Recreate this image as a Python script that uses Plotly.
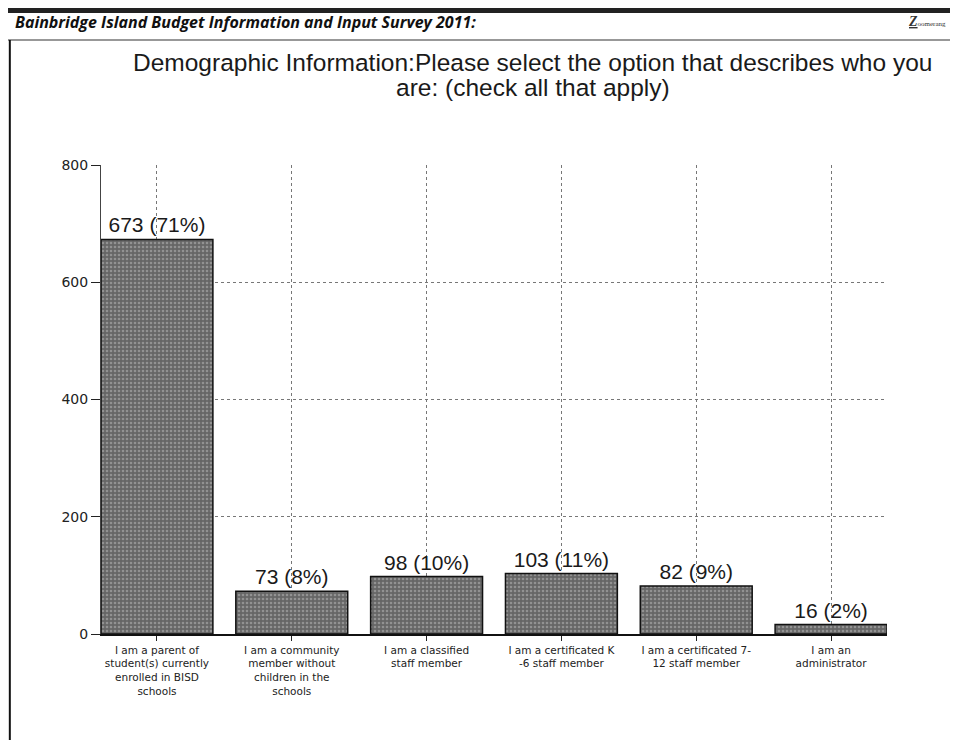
import plotly.graph_objects as go

categories = [
    "I am a parent of<br>student(s) currently<br>enrolled in BISD<br>schools",
    "I am a community<br>member without<br>children in the<br>schools",
    "I am a classified<br>staff member",
    "I am a certificated K<br>-6 staff member",
    "I am a certificated 7-<br>12 staff member",
    "I am an<br>administrator",
]
counts = [673, 73, 98, 103, 82, 16]
percents = [71, 8, 10, 11, 9, 2]
y_ticks = [0, 200, 400, 600, 800]

labels = [f"{c} ({p}%)" for c, p in zip(counts, percents)]

fig = go.Figure()
fig.add_trace(go.Bar(
    x=categories, y=counts,
    text=labels, textposition="outside",
    textfont=dict(family="Arial, Liberation Sans", size=21, color="#1a1a1a"),
    marker=dict(
        color="#6e6e6e",
        line=dict(color="#111", width=1.5),
        pattern=dict(shape=".", fgcolor="#bdbdbd", bgcolor="#666666", size=4, solidity=0.35),
    ),
    width=0.83, cliponaxis=False,
))

fig.update_layout(
    width=958, height=740,
    paper_bgcolor="white", plot_bgcolor="white",
    margin=dict(l=93, r=79, t=157, b=114),
    showlegend=False,
    font=dict(family="Arial, Liberation Sans", color="#222"),
    xaxis=dict(
        range=[-0.415, 5.415],
        showgrid=True, gridcolor="#777", griddash="dot", gridwidth=1,
        showline=True, linecolor="#111", linewidth=2,
        ticks="outside", ticklen=5, tickcolor="#222",
        tickfont=dict(size=10.5, color="#222", family="DejaVu Sans"),
        tickangle=0,
    ),
    yaxis=dict(
        range=[0, 800], tickvals=y_ticks,
        showgrid=True, gridcolor="#777", griddash="dot", gridwidth=1,
        zeroline=False, showline=True, linecolor="#444", linewidth=1,
        ticks="outside", ticklen=9, tickcolor="#222",
        tickfont=dict(size=14, color="#222", family="DejaVu Sans"),
    ),
    shapes=[
        dict(type="rect", xref="paper", yref="paper", x0=-0.12, x1=1.09, y0=1.324, y1=1.336,
             fillcolor="#222", line=dict(width=0), layer="above"),
        dict(type="line", xref="paper", yref="paper", x0=-0.12, x1=1.09, y0=1.2665, y1=1.2665,
             line=dict(color="#333", width=1.2)),
        dict(type="line", xref="paper", yref="paper", x0=-0.116, x1=-0.116, y0=-0.243, y1=1.2665,
             line=dict(color="#111", width=2)),
    ],
    annotations=[
        dict(text="<b><i>Bainbridge Island Budget Information and Input Survey 2011:</i></b>",
             xref="paper", yref="paper", x=-0.112, y=1.305, xanchor="left", yanchor="middle",
             showarrow=False, font=dict(size=16, color="#111", family="Open Sans, Liberation Sans")),
        dict(text="<i><b><u>Z</u></b></i><span style='font-size:7px'>oomerang</span>",
             xref="paper", yref="paper", x=1.078, y=1.305, xanchor="right", yanchor="middle",
             showarrow=False, font=dict(size=14, color="#333", family="Liberation Serif")),
        dict(text="Demographic Information:Please select the option that describes who you",
             xref="paper", yref="paper", x=0.5496, y=1.2196, xanchor="center", yanchor="middle",
             showarrow=False, font=dict(size=24.5, color="#1a1a1a")),
        dict(text="are: (check all that apply)",
             xref="paper", yref="paper", x=0.5496, y=1.1663, xanchor="center", yanchor="middle",
             showarrow=False, font=dict(size=24.5, color="#1a1a1a")),
    ],
)

fig.write_html("out.html")
